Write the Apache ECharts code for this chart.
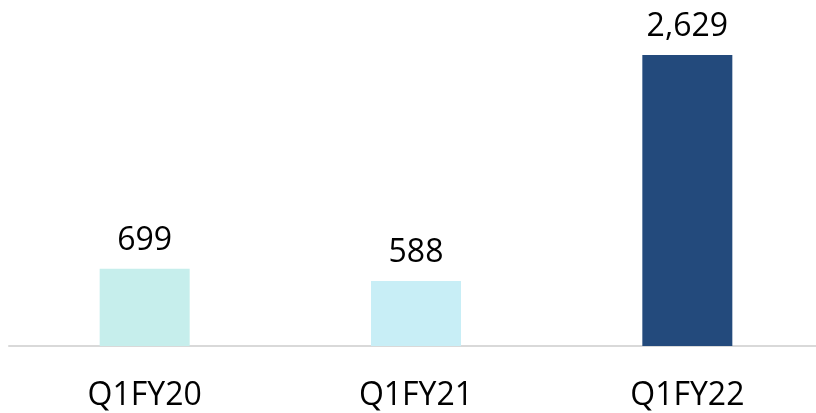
<!DOCTYPE html>
<html>
<head>
<meta charset="utf-8">
<script src="https://cdn.jsdelivr.net/npm/echarts@6/dist/echarts.min.js"></script>
<style>
  html, body { margin: 0; padding: 0; background: #fff; }
  #main { width: 816px; height: 413px; }
</style>
</head>
<body>
<div id="main"></div>
<script>
var categories = ['Q1FY20', 'Q1FY21', 'Q1FY22'];
var values = [699, 588, 2629];
var barColors = ['#c6eeec', '#c8eef6', '#234a7c'];

var chart = echarts.init(document.getElementById('main'));

var option = {
  backgroundColor: '#fff',
  animation: false,
  grid: { left: 9, right: -7, top: 55, bottom: 67, outerBoundsMode: 'none' },
  xAxis: {
    type: 'category',
    data: categories,
    axisTick: { show: false },
    axisLine: { lineStyle: { color: '#d9d9d9', width: 2 } },
    axisLabel: {
      color: '#000',
      fontFamily: 'Open Sans',
      fontSize: 32,
      margin: 34
    }
  },
  yAxis: {
    type: 'value',
    min: 0,
    max: 2629,
    show: false
  },
  series: [{
    type: 'bar',
    barWidth: 90,
    data: values.map(function (v, i) {
      return { value: v, itemStyle: { color: barColors[i] } };
    }),
    label: {
      show: true,
      position: 'top',
      distance: 12,
      color: '#000',
      fontFamily: 'Open Sans',
      fontSize: 32,
      formatter: function (p) {
        return p.value.toLocaleString('en-US');
      }
    }
  }]
};

chart.setOption(option);
</script>
</body>
</html>
